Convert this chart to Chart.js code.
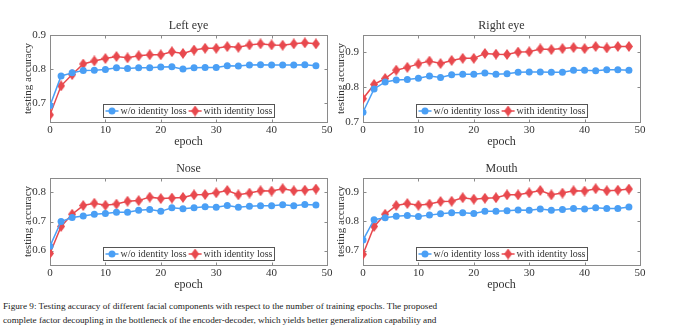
<!DOCTYPE html>
<html>
<head>
<meta charset="utf-8">
<script src="https://cdn.jsdelivr.net/npm/chart.js@4.4.0/dist/chart.umd.min.js"></script>
<style>
    body { margin: 0; background: #fff; width: 693px; height: 331px; position: relative; overflow: hidden; }
    canvas { position: absolute; }
    #caption { position: absolute; left: 3px; top: 299px; font-family: "Liberation Serif", serif; font-size: 9.2px; line-height: 14px; color: #1a1a1a; white-space: nowrap; }
</style>
</head>
<body>
<canvas id="leftEye" width="340" height="140" style="left:0px;top:10px"></canvas>
<canvas id="rightEye" width="340" height="140" style="left:313px;top:10px"></canvas>
<canvas id="nose" width="340" height="140" style="left:0px;top:153px"></canvas>
<canvas id="mouth" width="340" height="140" style="left:313px;top:153px"></canvas>
<div id="caption">
    Figure 9: Testing accuracy of different facial components with respect to the number of training epochs. The proposed<br>
    complete factor decoupling in the bottleneck of the encoder-decoder, which yields better generalization capability and
</div>
<script>
var epochs = [0, 2, 4, 6, 8, 10, 12, 14, 16, 18, 20, 22, 24, 26, 28, 30, 32, 34, 36, 38, 40, 42, 44, 46, 48];
var xTicks = [0, 10, 20, 30, 40, 50];
var seriesLabels = ['w/o identity loss', 'with identity loss'];

var leftEyeYTicks = [0.7, 0.8, 0.9];
var leftEyeWithout = [0.693, 0.780, 0.789, 0.796, 0.797, 0.799, 0.804, 0.802, 0.804, 0.804, 0.806, 0.807, 0.800, 0.804, 0.805, 0.805, 0.810, 0.809, 0.812, 0.813, 0.812, 0.812, 0.812, 0.813, 0.810];
var leftEyeWith = [0.666, 0.751, 0.784, 0.815, 0.824, 0.831, 0.837, 0.833, 0.839, 0.842, 0.842, 0.851, 0.846, 0.856, 0.861, 0.861, 0.866, 0.864, 0.871, 0.874, 0.871, 0.870, 0.874, 0.877, 0.874];

var rightEyeYTicks = [0.7, 0.8, 0.9];
var rightEyeWithout = [0.728, 0.795, 0.815, 0.821, 0.822, 0.826, 0.832, 0.828, 0.836, 0.837, 0.837, 0.841, 0.837, 0.839, 0.843, 0.844, 0.844, 0.843, 0.843, 0.849, 0.849, 0.847, 0.850, 0.850, 0.849];
var rightEyeWith = [0.767, 0.808, 0.825, 0.849, 0.857, 0.867, 0.875, 0.868, 0.877, 0.883, 0.883, 0.897, 0.895, 0.894, 0.901, 0.902, 0.910, 0.908, 0.911, 0.914, 0.911, 0.917, 0.913, 0.917, 0.917];

var noseYTicks = [0.6, 0.7, 0.8];
var noseWithout = [0.615, 0.700, 0.714, 0.719, 0.725, 0.728, 0.732, 0.732, 0.739, 0.741, 0.735, 0.747, 0.744, 0.747, 0.751, 0.749, 0.755, 0.749, 0.753, 0.754, 0.754, 0.758, 0.754, 0.759, 0.757];
var noseWith = [0.590, 0.683, 0.725, 0.755, 0.763, 0.756, 0.760, 0.770, 0.772, 0.784, 0.779, 0.781, 0.783, 0.792, 0.793, 0.799, 0.807, 0.792, 0.798, 0.806, 0.805, 0.813, 0.806, 0.808, 0.812];

var mouthYTicks = [0.7, 0.8, 0.9];
var mouthWithout = [0.736, 0.806, 0.813, 0.818, 0.821, 0.817, 0.822, 0.827, 0.830, 0.830, 0.828, 0.835, 0.835, 0.837, 0.840, 0.839, 0.843, 0.839, 0.841, 0.845, 0.843, 0.847, 0.845, 0.845, 0.850];
var mouthWith = [0.687, 0.783, 0.825, 0.855, 0.862, 0.856, 0.860, 0.869, 0.870, 0.882, 0.877, 0.880, 0.882, 0.892, 0.892, 0.899, 0.907, 0.892, 0.898, 0.906, 0.905, 0.913, 0.906, 0.908, 0.912];

var BLUE = '#4a9ff5';
var RED = '#e8494e';
var SERIF = '"Liberation Serif", "Times New Roman", serif';

// tall diamond marker, like matlab's 'd'
var diamond = document.createElement('canvas');
diamond.width = 8;
diamond.height = 11;
(function () {
    var c = diamond.getContext('2d');
    c.fillStyle = RED;
    c.beginPath();
    c.moveTo(4, 0);
    c.lineTo(8, 5.5);
    c.lineTo(4, 11);
    c.lineTo(0, 5.5);
    c.closePath();
    c.fill();
})();

var panelPlugin = {
    id: 'panel',
    beforeDatasetsDraw: function (chart) {
        var ctx = chart.ctx, a = chart.chartArea;
        var xs = chart.scales.x, ys = chart.scales.y;
        ctx.save();
        ctx.strokeStyle = '#8a8a8a';
        ctx.lineWidth = 1;
        var l = Math.round(a.left) + 0.5, r = Math.round(a.right) + 0.5;
        var t = Math.round(a.top) + 0.5, b = Math.round(a.bottom) + 0.5;
        ctx.strokeRect(l, t, r - l, b - t);
        ctx.beginPath();
        xs.ticks.forEach(function (tk) {
            var px = Math.round(xs.getPixelForValue(tk.value)) + 0.5;
            ctx.moveTo(px, b); ctx.lineTo(px, b - 3);
            ctx.moveTo(px, t); ctx.lineTo(px, t + 3);
        });
        ys.ticks.forEach(function (tk) {
            var py = Math.round(ys.getPixelForValue(tk.value)) + 0.5;
            ctx.moveTo(l, py); ctx.lineTo(l + 3, py);
            ctx.moveTo(r, py); ctx.lineTo(r - 3, py);
        });
        ctx.stroke();

        ctx.fillStyle = '#333';
        ctx.font = '12px ' + SERIF;
        ctx.textAlign = 'center';
        ctx.textBaseline = 'middle';
        ctx.fillText(chart.options.plugins.panel.title, (a.left + a.right) / 2, a.top - 9);
        ctx.restore();
    },
    afterDatasetsDraw: function (chart) {
        var ctx = chart.ctx, a = chart.chartArea;
        var ds = chart.data.datasets;
        ctx.save();
        ctx.font = '10px ' + SERIF;
        var sample = 13, gap = 2, pad = 2;
        var w0 = ctx.measureText(ds[0].label).width;
        var w1 = ctx.measureText(ds[1].label).width;
        var w = pad + sample + gap + w0 + gap + sample + gap + w1 + pad;
        var h = 13;
        var x = Math.round((a.left + a.right) / 2 - w / 2) + 0.5;
        var y = Math.round(a.bottom - 5 - h) + 0.5;
        ctx.fillStyle = '#fff';
        ctx.fillRect(x, y, w, h);
        ctx.strokeStyle = '#555';
        ctx.lineWidth = 1;
        ctx.strokeRect(x, y, w, h);

        var cy = y + h / 2;
        var cx = x + pad;
        ctx.lineWidth = 1.5;
        ctx.strokeStyle = BLUE;
        ctx.beginPath(); ctx.moveTo(cx, cy); ctx.lineTo(cx + sample, cy); ctx.stroke();
        ctx.fillStyle = BLUE;
        ctx.beginPath(); ctx.arc(cx + sample / 2, cy, 3.5, 0, Math.PI * 2); ctx.fill();
        cx += sample + gap;
        ctx.fillStyle = '#333';
        ctx.textBaseline = 'middle';
        ctx.fillText(ds[0].label, cx, cy + 0.5);
        cx += w0 + gap;
        ctx.strokeStyle = RED;
        ctx.beginPath(); ctx.moveTo(cx, cy); ctx.lineTo(cx + sample, cy); ctx.stroke();
        ctx.drawImage(diamond, cx + sample / 2 - 4, cy - 5.5);
        cx += sample + gap;
        ctx.fillStyle = '#333';
        ctx.fillText(ds[1].label, cx, cy + 0.5);
        ctx.restore();
    }
};

function points(values) {
    return values.map(function (v, i) { return { x: epochs[i], y: v }; });
}

function makeChart(id, title, yMin, yMax, yTicks, without, withLoss) {
    return new Chart(document.getElementById(id), {
        type: 'line',
        data: {
            datasets: [
                {
                    label: seriesLabels[0],
                    data: points(without),
                    borderColor: BLUE,
                    backgroundColor: BLUE,
                    borderWidth: 1.5,
                    pointRadius: 3.5,
                    pointBorderWidth: 0,
                    tension: 0
                },
                {
                    label: seriesLabels[1],
                    data: points(withLoss),
                    borderColor: RED,
                    backgroundColor: RED,
                    borderWidth: 1.5,
                    pointStyle: diamond,
                    tension: 0
                }
            ]
        },
        options: {
            responsive: false,
            animation: false,
            devicePixelRatio: 1,
            layout: { padding: { top: 25, right: 13, left: 0, bottom: 0 } },
            plugins: {
                legend: { display: false },
                tooltip: { enabled: false },
                panel: { title: title }
            },
            scales: {
                x: {
                    type: 'linear',
                    min: 0,
                    max: 50,
                    afterBuildTicks: function (s) { s.ticks = xTicks.map(function (v) { return { value: v }; }); },
                    afterFit: function (s) { s.height = 28; },
                    grid: { display: false, drawTicks: false },
                    border: { display: false },
                    ticks: { color: '#333', padding: 2, maxRotation: 0, font: { family: SERIF, size: 11 } },
                    title: { display: true, text: 'epoch', color: '#333', padding: { top: 0, bottom: 1 }, font: { family: SERIF, size: 12 } }
                },
                y: {
                    min: yMin,
                    max: yMax,
                    afterBuildTicks: function (s) { s.ticks = yTicks.map(function (v) { return { value: v }; }); },
                    afterFit: function (s) { s.width = 50; },
                    grid: { display: false, drawTicks: false },
                    border: { display: false },
                    ticks: {
                        color: '#333',
                        padding: 4,
                        font: { family: SERIF, size: 11 },
                        callback: function (v) { return v.toFixed(1); }
                    },
                    title: { display: true, text: 'testing accuracy', color: '#333', padding: { top: 22, bottom: 0 }, font: { family: SERIF, size: 11 } }
                }
            }
        },
        plugins: [panelPlugin]
    });
}

makeChart('leftEye', 'Left eye', 0.645, 0.9, leftEyeYTicks, leftEyeWithout, leftEyeWith);
makeChart('rightEye', 'Right eye', 0.7, 0.95, rightEyeYTicks, rightEyeWithout, rightEyeWith);
makeChart('nose', 'Nose', 0.55, 0.85, noseYTicks, noseWithout, noseWith);
makeChart('mouth', 'Mouth', 0.65, 0.95, mouthYTicks, mouthWithout, mouthWith);
</script>
</body>
</html>
